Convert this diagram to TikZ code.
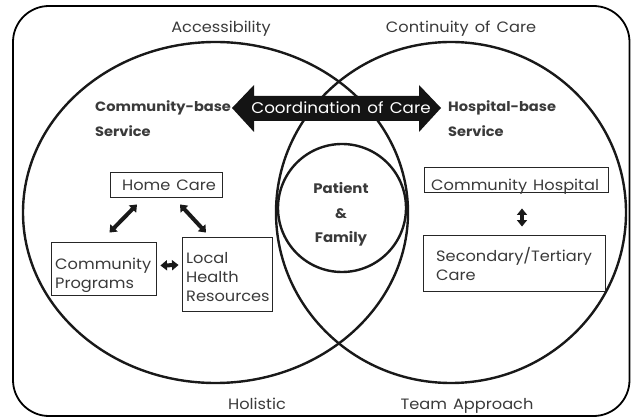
\documentclass[tikz,border=0pt]{standalone}
\usepackage{fontspec}
\setmainfont{Poppins}
\newfontfamily\gfont[FakeStretch=1.08, WordSpace=1.4]{Poppins}
\usetikzlibrary{arrows.meta,shapes.geometric,calc}
\definecolor{tg}{HTML}{3A3A3A}
\begin{document}
\begin{tikzpicture}[x=1pt,y=-1pt,
  lbl/.style={font=\gfont\fontsize{15}{18}\selectfont, text=tg, inner sep=0},
  bold/.style={font=\gfont\fontsize{13.5}{25}\selectfont\bfseries, text=tg, inner sep=0, align=left},
  boxtxt/.style={font=\gfont\fontsize{15}{19}\selectfont, text=tg, inner sep=0, align=left},
  box/.style={draw=black!85, line width=0.9pt, inner sep=0},
  big/.style={ellipse, draw=black!90, line width=2.4pt, inner sep=0},
  sarrow/.style={line width=4pt, black!90, {Triangle[length=6.5pt,width=10pt]}-{Triangle[length=6.5pt,width=10pt]}}
]
\useasboundingbox (0,0) rectangle (631,419);
\draw[line width=1.8pt, rounded corners=36pt] (13,6) rectangle (629.5,416);

\node[big, minimum width=385pt, minimum height=341pt] (lc) at (215.5,212.5) {};
\node[big, minimum width=350pt, minimum height=341pt] (rc) at (451,212.5) {};
\node[circle, draw=black!90, line width=2.4pt, minimum size=128pt, inner sep=0] (pf) at (342,208) {};
\node[font=\gfont\fontsize{13.8}{24.5}\selectfont\bfseries, text=tg, align=center, anchor=base] (pft) at (341,243) {Patient\\\&\\Family};

\node[lbl, anchor=base] (acc) at (221,33) {Accessibility};
\node[lbl, anchor=base] (cont) at (461,33) {Continuity of Care};
\node[lbl, anchor=base] (hol) at (257,409) {Holistic};
\node[lbl, anchor=base] (team) at (467,409) {Team Approach};

\node[bold, anchor=base west] (cbs) at (95,137) {Community-base\\Service};
\node[bold, anchor=base west] (hbs) at (448,137) {Hospital-base\\Service};

% coordination arrow
\fill[black!92] (232,108) -- (254,85) -- (254,96) -- (419,96) -- (419,85) -- (441,108)
  -- (419,132) -- (419,121) -- (254,121) -- (254,132) -- cycle;
\node[font=\gfont\fontsize{15.5}{17}\selectfont, text=white, inner sep=0, anchor=base] (coc) at (341,114) {Coordination of Care};

% left boxes
\node[box, minimum width=112pt, minimum height=25pt] (home) at (166,184.5) {};
\node[boxtxt, anchor=base] (homet) at (169,190.5) {Home Care};
\node[box, minimum width=105pt, minimum height=53pt] (cp) at (103.5,268.5) {};
\node[boxtxt, anchor=base west] (cpt) at (55,288.5) {Community\\Programs};
\node[box, minimum width=90pt, minimum height=74pt] (lhr) at (227,274) {};
\node[boxtxt, anchor=base west] (lhrt) at (186,301.5) {Local\\Health\\Resources};

\draw[sarrow] ($(home.south)+(-29,7)$) -- ($(cp.north)+(6,-9)$);
\draw[sarrow] ($(home.south)+(14,7)$) -- ($(lhr.north)+(-21,-4)$);
\draw[sarrow] ($(cp.east)+(4,-3)$) -- ($(lhr.west)+(-3,-9)$);

% right boxes
\node[box, minimum width=184pt, minimum height=25pt] (ch) at (516,179.5) {};
\node[boxtxt, anchor=base west] (cht) at (431,190.5) {Community Hospital};
\node[box, minimum width=182pt, minimum height=56pt] (st) at (514,263) {};
\node[boxtxt, anchor=base west] (stt) at (436,280.5) {Secondary/Tertiary\\Care};

\draw[sarrow] ($(ch.south)+(6,16)$) -- ($(st.north)+(8,-8)$);
\end{tikzpicture}
\end{document}
